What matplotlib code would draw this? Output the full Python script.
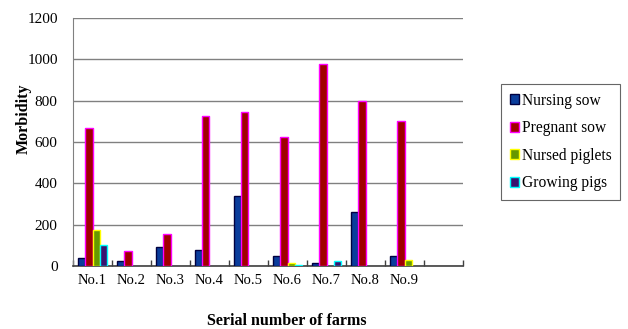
import matplotlib
matplotlib.use("Agg")
import matplotlib.pyplot as plt
import numpy as np

plt.rcParams['font.family'] = ['Liberation Serif', 'DejaVu Serif']

farms = ["No.1", "No.2", "No.3", "No.4", "No.5", "No.6", "No.7", "No.8", "No.9", ""]
nursing_sow = [40, 25, 90, 78, 340, 50, 15, 260, 50, 0]
pregnant_sow = [670, 75, 155, 725, 745, 625, 975, 800, 700, 0]
nursed_piglets = [175, 0, 0, 0, 0, 13, 0, 0, 30, 0]
growing_pigs = [100, 0, 0, 0, 0, 7, 25, 0, 0, 0]

series = [
    ("Nursing sow", nursing_sow, "#0a3d9c", "#000040"),
    ("Pregnant sow", pregnant_sow, "#a00000", "#ff00ff"),
    ("Nursed piglets", nursed_piglets, "#669900", "#ffff00"),
    ("Growing pigs", growing_pigs, "#3a1470", "#00ffff"),
]

fig = plt.figure(figsize=(6.28, 3.29), dpi=100)
ax = fig.add_axes([73 / 628, 63 / 329, 390 / 628, 248 / 329])

x = np.arange(len(farms))
w = 0.19
offsets = (np.arange(len(series)) - 1.5) * w
handles = []
for (name, vals, face, edge), off in zip(series, offsets):
    vals = np.asarray(vals, dtype=float)
    keep = vals > 0  # empty cells are left blank
    b = ax.bar(x[keep] + off, vals[keep], width=w, color=face, edgecolor=edge,
               linewidth=1.0, label=name, zorder=3)
    handles.append(b)

ax.set_xlim(-0.5, len(farms) - 0.5)
ax.set_ylim(0, 1200)
ax.set_yticks(np.arange(0, 1201, 200))
ax.yaxis.grid(True, color="#808080", linewidth=1.0, zorder=0)
ax.set_axisbelow(True)

ax.set_xticks(x)
ax.set_xticklabels(farms, fontsize=10.5)
ax.set_xticks(np.arange(-0.5, len(farms)), minor=True)
ax.tick_params(axis="x", which="major", length=0, pad=6)
ax.tick_params(axis="x", which="minor", direction="in", length=4,
               color="#404040", width=1.0)
ax.tick_params(axis="y", length=0, pad=11, labelsize=11)

for s in ("top", "right"):
    ax.spines[s].set_visible(False)
ax.spines["left"].set_color("#808080")
ax.spines["bottom"].set_color("#404040")
ax.spines["bottom"].set_linewidth(1.2)

ax.set_ylabel("Morbidity", fontsize=11.5, fontweight="bold")
ax.yaxis.set_label_coords((32 - 73) / 390, (266 - 119) / 248)
ax.set_xlabel("Serial number of farms", fontsize=11.5, fontweight="bold",
              va="top")
ax.xaxis.set_label_coords((287 - 73) / 390, (266 - 313) / 248)

leg = fig.legend(handles=handles, loc="upper left",
                 bbox_to_anchor=(501 / 628, (329 - 84) / 329),
                 bbox_transform=fig.transFigure, borderaxespad=0,
                 fontsize=11.2, handlelength=0.6, handleheight=0.6,
                 handletextpad=0.2, labelspacing=0.74, borderpad=0.55,
                 fancybox=False, frameon=True)
leg.get_frame().set_edgecolor("#404040")
leg.get_frame().set_linewidth(0.8)

fig.savefig("out.png", dpi=100)
